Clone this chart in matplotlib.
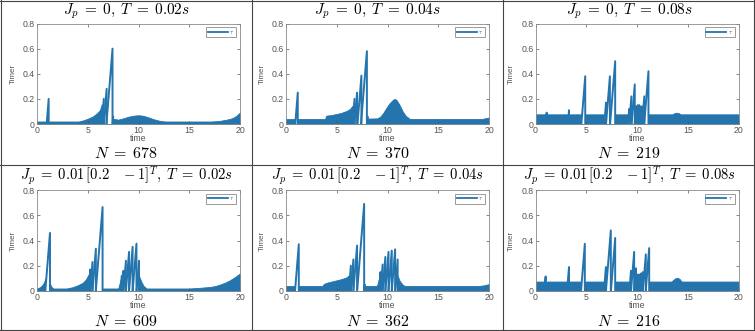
import matplotlib.pyplot as plt
from matplotlib.lines import Line2D

plt.rcParams['mathtext.fontset'] = 'cm'
plt.rcParams['font.family'] = ['Liberation Sans', 'DejaVu Sans']

BLUE = '#2474ae'

# ---- data ----
# env_*: upper edge of the dense sawtooth band, tooth_*: reset time / height of the big teeth
titles = [r'$J_p \;=\; 0,\; T \;=\; 0.02s$', r'$J_p \;=\; 0,\; T \;=\; 0.04s$', r'$J_p \;=\; 0,\; T \;=\; 0.08s$',
          r'$J_p \;=\; 0.01\,[0.2\quad -1]^T,\; T \;=\; 0.02s$', r'$J_p \;=\; 0.01\,[0.2\quad -1]^T,\; T \;=\; 0.04s$',
          r'$J_p \;=\; 0.01\,[0.2\quad -1]^T,\; T \;=\; 0.08s$']
n_events = [678, 370, 219, 609, 362, 216]

env1_t = [0, 4.1, 4.6, 5.0, 5.5, 5.9, 6.2, 6.38, 6.38, 7.6, 8.0, 8.5, 9.0, 9.5, 10.0, 10.5, 11.0, 11.5, 12.0, 12.6, 17.2, 18.0, 18.6, 19.2, 19.6, 20.0]
env1_v = [0.02, 0.02, 0.03, 0.042, 0.06, 0.085, 0.11, 0.16, 0.02, 0.04, 0.035, 0.045, 0.058, 0.066, 0.07, 0.065, 0.052, 0.038, 0.027, 0.02, 0.02, 0.025, 0.033, 0.045, 0.062, 0.092]
tooth1_t = [1.15, 6.58, 6.86, 7.44, 7.5]
tooth1_h = [0.2, 0.2, 0.28, 0.6, 0.06]

env2_t = [0, 3.85, 3.95, 4.5, 5.0, 5.5, 6.0, 6.3, 6.55, 6.55, 9.0, 9.3, 9.6, 9.9, 10.2, 10.5, 10.7, 10.9, 11.2, 11.5, 11.8, 12.2, 19.3, 20.0]
env2_v = [0.04, 0.04, 0.066, 0.072, 0.08, 0.09, 0.105, 0.12, 0.145, 0.04, 0.045, 0.06, 0.09, 0.13, 0.165, 0.19, 0.2, 0.19, 0.15, 0.1, 0.065, 0.04, 0.04, 0.052]
tooth2_t = [1.16, 6.75, 7.0, 7.43, 7.97, 8.03]
tooth2_h = [0.25, 0.2, 0.25, 0.385, 0.58, 0.06]

env3_t = [0, 13.5, 13.7, 13.9, 14.1, 14.3, 20]
env3_v = [0.077, 0.077, 0.087, 0.09, 0.087, 0.077, 0.077]
tooth3_t = [1.1, 3.3, 4.9, 6.95, 7.33, 7.85, 9.23, 9.45, 9.78, 9.92, 10.07, 10.22, 10.36, 10.5, 10.72, 11.13]
tooth3_h = [0.09, 0.11, 0.38, 0.17, 0.38, 0.5, 0.12, 0.22, 0.315, 0.14, 0.15, 0.15, 0.14, 0.14, 0.22, 0.42]

env4_t = [0, 0.3, 0.5, 0.7, 0.82, 0.82, 1.3, 1.4, 1.6, 2.9, 3.5, 4.0, 4.5, 4.8, 5.08, 5.08, 8.0, 8.1, 8.24, 8.24, 10.05, 10.3, 10.5, 10.8, 15.0, 16.0, 17.0, 17.5, 18.0, 18.5, 19.0, 19.5, 20.0]
env4_v = [0.02, 0.03, 0.045, 0.07, 0.1, 0.02, 0.055, 0.035, 0.02, 0.02, 0.03, 0.045, 0.065, 0.09, 0.13, 0.02, 0.02, 0.05, 0.09, 0.02, 0.12, 0.07, 0.04, 0.02, 0.02, 0.025, 0.032, 0.038, 0.05, 0.065, 0.085, 0.11, 0.14]
tooth4_t = [1.28, 5.25, 5.47, 5.8, 6.46, 8.36, 8.52, 8.76, 9.07, 9.42, 9.8, 10.05]
tooth4_h = [0.46, 0.17, 0.23, 0.335, 0.665, 0.12, 0.16, 0.24, 0.31, 0.35, 0.375, 0.24]

env5_t = [0, 3.6, 3.7, 4.0, 4.5, 5.0, 5.5, 6.0, 6.19, 6.19, 8.9, 9.0, 9.16, 9.16, 11.0, 11.2, 11.5, 11.7, 19.0, 19.5, 20.0]
env5_v = [0.04, 0.04, 0.055, 0.065, 0.075, 0.085, 0.095, 0.11, 0.125, 0.04, 0.04, 0.05, 0.1, 0.04, 0.12, 0.08, 0.05, 0.04, 0.04, 0.045, 0.055]
tooth5_t = [1.26, 6.39, 6.64, 7.0, 7.7, 7.75, 9.31, 9.52, 9.79, 10.1, 10.42, 10.75, 11.0]
tooth5_h = [0.37, 0.2, 0.25, 0.36, 0.69, 0.05, 0.15, 0.21, 0.27, 0.31, 0.32, 0.33, 0.25]

env6_t = [0, 13.4, 13.6, 13.8, 14.0, 14.2, 14.4, 20]
env6_v = [0.075, 0.075, 0.09, 0.102, 0.105, 0.095, 0.075, 0.075]
tooth6_t = [1.0, 3.3, 4.86, 6.94, 7.42, 7.85, 9.41, 9.72, 9.9, 10.03, 10.16, 10.29, 10.43, 10.58, 10.87, 11.2]
tooth6_h = [0.115, 0.19, 0.374, 0.19, 0.48, 0.42, 0.16, 0.31, 0.18, 0.13, 0.13, 0.13, 0.14, 0.15, 0.29, 0.34]

envs_t = [env1_t, env2_t, env3_t, env4_t, env5_t, env6_t]
envs_v = [env1_v, env2_v, env3_v, env4_v, env5_v, env6_v]
teeth_t = [tooth1_t, tooth2_t, tooth3_t, tooth4_t, tooth5_t, tooth6_t]
teeth_h = [tooth1_h, tooth2_h, tooth3_h, tooth4_h, tooth5_h, tooth6_h]

W, H = 755, 331
fig = plt.figure(figsize=(W / 100, H / 100), dpi=100)

# axes boxes in pixels: left, top, right, bottom
lefts = [37, 286, 535.5]
tops = [23.5, 190]
bottoms = [124, 291]
width = 203

for i in range(6):
    r, c = divmod(i, 3)
    ax = fig.add_axes([lefts[c] / W, (H - bottoms[r]) / H, width / W, (bottoms[r] - tops[r]) / H])
    ax.fill_between(envs_t[i], 0, envs_v[i], color=BLUE, lw=0.6)
    for te, h in zip(teeth_t[i], teeth_h[i]):
        ax.fill([te - h, te, te], [0, h, 0], color='white', lw=0)
    for te, h in zip(teeth_t[i], teeth_h[i]):
        ax.plot([te - h, te, te], [0, h, 0], color=BLUE, lw=1.4)
    ax.plot([], [], color=BLUE, lw=1.3, label=r'$\tau$')
    ax.set_xlim(0, 20)
    ax.set_ylim(0, 0.8)
    ax.set_xticks([0, 5, 10, 15, 20])
    ax.set_yticks([0, 0.2, 0.4, 0.6, 0.8])
    ax.set_yticklabels(['0', '0.2', '0.4', '0.6', '0.8'])
    ax.tick_params(direction='in', top=True, right=True, length=2, width=0.5,
                   labelsize=6.3, colors='#555555', pad=1.5)
    for s in ax.spines.values():
        s.set_color('#8a8a8a')
        s.set_linewidth(0.6)
    ax.set_xlabel('time', fontsize=6.3, color='#555555')
    ax.xaxis.set_label_coords(0.5, -0.1)
    ax.set_ylabel('Timer', fontsize=5.8, color='#555555')
    ax.yaxis.set_label_coords(-0.1, 0.5)
    leg = ax.legend(loc='upper right', fontsize=4.5, handlelength=3.2, handletextpad=0.3,
                    borderpad=0.25, borderaxespad=0.6, fancybox=False, framealpha=1)
    leg.get_frame().set_edgecolor('#8a8a8a')
    leg.get_frame().set_linewidth(0.6)
    for t in leg.get_texts():
        t.set_color('#555555')

    cx = (c * 251.5 + 126) / W
    ty = [11, 175.5][r]
    ny = [153, 321][r]
    fs = [11, 10.5][r]
    fig.text(cx, 1 - ty / H, titles[i], ha='center', va='center', fontsize=fs)
    fig.text(cx, 1 - ny / H, r'$N \;=\; %d$' % n_events[i], ha='center', va='center', fontsize=11.5)

# table borders
grid_col = '#444444'
for x in [1, 252, 503, 754]:
    fig.add_artist(Line2D([x / W, x / W], [0, 1], transform=fig.transFigure, color=grid_col, lw=0.8))
for y in [1, 165, 330]:
    fig.add_artist(Line2D([0, 1], [1 - y / H, 1 - y / H], transform=fig.transFigure, color=grid_col, lw=0.8))

fig.savefig('out.png', dpi=100)
